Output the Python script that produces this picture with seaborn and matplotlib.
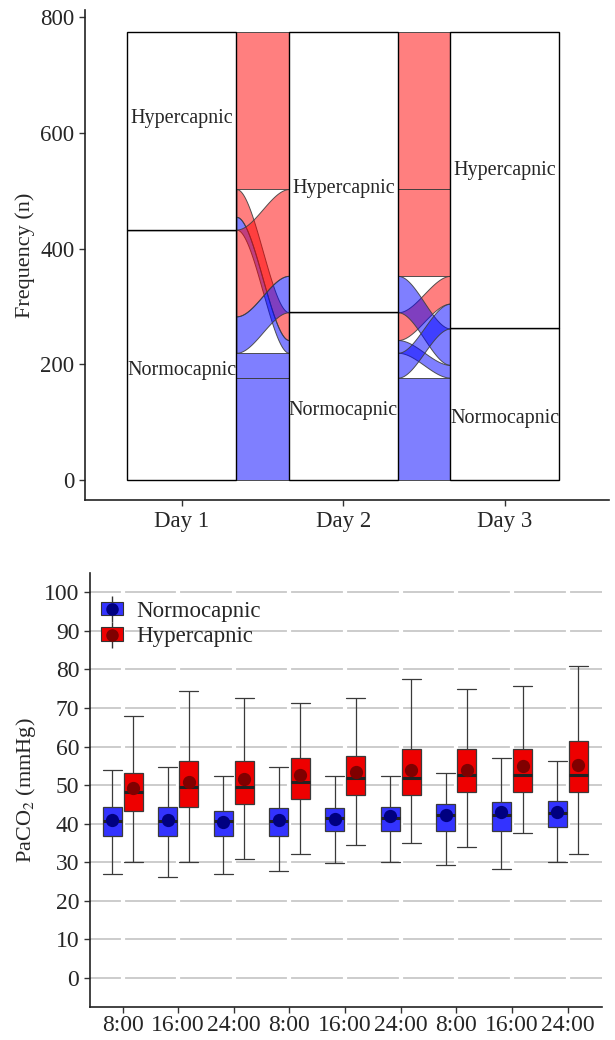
import numpy as np
import pandas as pd
import matplotlib
matplotlib.use('Agg')
import matplotlib.pyplot as plt
import seaborn as sns
from matplotlib.patches import Patch
from matplotlib.lines import Line2D
from matplotlib.legend_handler import HandlerTuple

# ---- alluvial data (one row per path Day1 -> Day2 -> Day3) ----
day_names = ['Day 1', 'Day 2', 'Day 3']
day1 = ['Hypercapnic', 'Hypercapnic', 'Hypercapnic', 'Hypercapnic',
        'Normocapnic', 'Normocapnic', 'Normocapnic', 'Normocapnic']
day2 = ['Hypercapnic', 'Hypercapnic', 'Normocapnic', 'Normocapnic',
        'Hypercapnic', 'Hypercapnic', 'Normocapnic', 'Normocapnic']
day3 = ['Hypercapnic', 'Normocapnic', 'Hypercapnic', 'Normocapnic',
        'Hypercapnic', 'Normocapnic', 'Hypercapnic', 'Normocapnic']
path_n = [271, 0, 48, 22, 150, 63, 43, 177]
path_fill = ['Hypercapnic', 'Hypercapnic', 'Hypercapnic', 'Normocapnic',
             'Hypercapnic', 'Normocapnic', 'Normocapnic', 'Normocapnic']
# stratum label heights (as placed in the original)
label_hyper_y = [625, 504, 535]
label_normo_y = [189, 120, 106]

# ---- PaCO2 box data (5 numbers + mean per time point) ----
times = ['8:00', '16:00', '24:00', '8:00', '16:00', '24:00', '8:00', '16:00', '24:00']
normo_low = [27.0, 26.1, 27.0, 27.8, 29.7, 30.0, 29.2, 28.3, 30.0]
normo_q1 = [36.9, 36.9, 36.9, 36.9, 38.1, 38.1, 38.1, 38.1, 39.0]
normo_med = [40.6, 40.6, 40.6, 40.6, 41.4, 41.4, 42.2, 42.2, 42.7]
normo_q3 = [44.2, 44.2, 43.4, 44.0, 44.0, 44.2, 45.1, 45.7, 45.9]
normo_high = [54.0, 54.6, 52.4, 54.6, 52.4, 52.4, 53.2, 57.1, 56.3]
normo_mean = [41.0, 41.0, 40.4, 41.0, 41.2, 42.1, 42.3, 42.9, 43.1]
hyper_low = [30.0, 30.0, 30.8, 32.2, 34.4, 34.9, 33.9, 37.5, 32.2]
hyper_q1 = [43.4, 44.2, 45.1, 46.5, 47.3, 47.3, 48.1, 48.1, 48.1]
hyper_med = [48.2, 49.6, 49.6, 50.9, 51.8, 51.8, 52.6, 52.6, 52.6]
hyper_q3 = [53.2, 56.3, 56.3, 57.1, 57.6, 59.3, 59.3, 59.3, 61.4]
hyper_high = [67.9, 74.3, 72.7, 71.4, 72.7, 77.4, 74.9, 75.7, 81.0]
hyper_mean = [49.3, 50.9, 51.5, 52.7, 53.5, 54.0, 54.0, 54.9, 55.1]

sns.set_style('ticks')
plt.rcParams['font.family'] = ['Liberation Serif', 'DejaVu Serif']
plt.rcParams['mathtext.fontset'] = 'stix'

fill_col = {'Hypercapnic': (1.0, 0.0, 0.0, 0.5), 'Normocapnic': (0.0, 0.0, 1.0, 0.5)}
box_col = {'Hypercapnic': '#EE0000', 'Normocapnic': '#3333FF'}
mean_col = {'Hypercapnic': '#800000', 'Normocapnic': '#000080'}

fig = plt.figure(figsize=(6.15, 10.4), dpi=100)

# ================= top: alluvial plot =================
ax1 = fig.add_axes([0.138, 0.519, 0.852, 0.471])
days = [day1, day2, day3]
rank = {'Hypercapnic': 0, 'Normocapnic': 1}
guidance = [[0, 1, 2], [1, 0, 2], [2, 1, 0]]
total = sum(path_n)
xs = np.array([1, 2, 3])
w = 0.675

# stack the lodes at each day (zigzag ordering, Hypercapnic on top)
pos = []
for a in range(3):
    keys = sorted(range(len(path_n)),
                  key=lambda k: tuple(rank[days[g][k]] for g in guidance[a]))
    top = total
    d = {}
    for k in keys:
        d[k] = (top - path_n[k], top)
        top -= path_n[k]
    pos.append(d)

t = np.linspace(0, 1, 80)
s = 3 * t ** 2 - 2 * t ** 3
for a in range(2):
    xx = np.linspace(xs[a] + w / 2, xs[a + 1] - w / 2, len(t))
    for k in range(len(path_n)):
        if path_n[k] == 0:
            continue
        lo0, hi0 = pos[a][k]
        lo1, hi1 = pos[a + 1][k]
        ax1.fill_between(xx, lo0 + (lo1 - lo0) * s, hi0 + (hi1 - hi0) * s,
                         facecolor=fill_col[path_fill[k]],
                         edgecolor=(0.25, 0.25, 0.25, 0.9), linewidth=0.7, zorder=2)

# strata
for a in range(3):
    n_h = sum(c for c, dd in zip(path_n, days[a]) if dd == 'Hypercapnic')
    n_n = total - n_h
    ax1.bar(xs[a], n_n, bottom=0, width=w, color='white', edgecolor='black',
            linewidth=1.0, zorder=3)
    ax1.bar(xs[a], n_h, bottom=n_n, width=w, color='white', edgecolor='black',
            linewidth=1.0, zorder=3)
    ax1.text(xs[a], label_hyper_y[a], 'Hypercapnic', ha='center', va='center',
             fontsize=14.5, zorder=4)
    ax1.text(xs[a], label_normo_y[a], 'Normocapnic', ha='center', va='center',
             fontsize=14.5, zorder=4)

ax1.set_xlim(0.399, 3.644)
ax1.set_ylim(-35, 812)
ax1.set_xticks(xs)
ax1.set_xticklabels(day_names)
ax1.set_yticks([0, 200, 400, 600, 800])
ax1.set_ylabel('Frequency (n)', fontsize=16)
ax1.set_xlabel('')
ax1.tick_params(labelsize=16.5, length=4, width=1, color='#333333')
sns.despine(ax=ax1)
for sp in ['left', 'bottom']:
    ax1.spines[sp].set_linewidth(1.2)
    ax1.spines[sp].set_color('#222222')

# ================= bottom: PaCO2 boxplots =================
ax2 = fig.add_axes([0.146, 0.032, 0.833, 0.417])
slots = ['t%d' % i for i in range(len(times))]
rows = []
for i, sl in enumerate(slots):
    for grp, lo, q1, md, q3, hi in [
            ('Normocapnic', normo_low, normo_q1, normo_med, normo_q3, normo_high),
            ('Hypercapnic', hyper_low, hyper_q1, hyper_med, hyper_q3, hyper_high)]:
        for v in [lo[i], q1[i], md[i], q3[i], hi[i]]:
            rows.append({'slot': sl, 'group': grp, 'value': v})
df = pd.DataFrame(rows)
means = pd.DataFrame({
    'slot': slots * 2,
    'group': ['Normocapnic'] * len(slots) + ['Hypercapnic'] * len(slots),
    'mean': normo_mean + hyper_mean,
})
hue_order = ['Normocapnic', 'Hypercapnic']

ax2.set_axisbelow(True)
for yv in range(0, 101, 10):
    ax2.axhline(yv, color='#c8c8c8', linewidth=1.3, zorder=0.4)
for xv in range(len(slots)):
    ax2.axvline(xv, color='white', linewidth=3, zorder=0.6)

sns.boxplot(data=df, x='slot', y='value', hue='group', order=slots,
            hue_order=hue_order, palette=box_col, whis=(0, 100),
            width=0.76, gap=0.1, linewidth=0.9, linecolor='#3a3a3a',
            saturation=1, fliersize=0, capwidths=0.342,
            medianprops=dict(color='#222222', linewidth=2.2),
            legend=False, ax=ax2)
sns.pointplot(data=means, x='slot', y='mean', hue='group', order=slots,
              hue_order=hue_order, palette=mean_col, dodge=0.38,
              linestyle='none', marker='o', markersize=7.5, errorbar=None,
              legend=False, zorder=6, ax=ax2)

ax2.set_xlim(-0.59, 8.62)
ax2.set_ylim(-7.5, 105)
ax2.set_yticks(range(0, 101, 10))
ax2.set_xticks(range(len(slots)))
ax2.set_xticklabels(times)
ax2.set_xlabel('')
ax2.set_ylabel('PaCO$_2$ (mmHg)', fontsize=16)
ax2.tick_params(labelsize=17, length=4, width=1, color='#333333')
ax2.tick_params(axis='x', pad=2)
sns.despine(ax=ax2)
for sp in ['left', 'bottom']:
    ax2.spines[sp].set_linewidth(1.2)
    ax2.spines[sp].set_color('#222222')

# legend keys: whisker line, box and mean dot stacked on top of each other
handles = []
for grp in hue_order:
    handles.append((
        Line2D([], [], color='#333333', marker='|', markersize=19, linestyle='none'),
        Patch(facecolor=box_col[grp], edgecolor='#333333', linewidth=0.8),
        Line2D([], [], color=mean_col[grp], marker='o', markersize=8, linestyle='none'),
    ))
ax2.legend(handles, hue_order, handler_map={tuple: HandlerTuple(ndivide=1, pad=0)},
           loc='upper left', bbox_to_anchor=(0.0, 0.963), frameon=False,
           fontsize=16.5, handlelength=0.95, handleheight=0.55, handletextpad=0.6,
           labelspacing=0.2, borderaxespad=0.1)

fig.savefig('out.png', dpi=100)
